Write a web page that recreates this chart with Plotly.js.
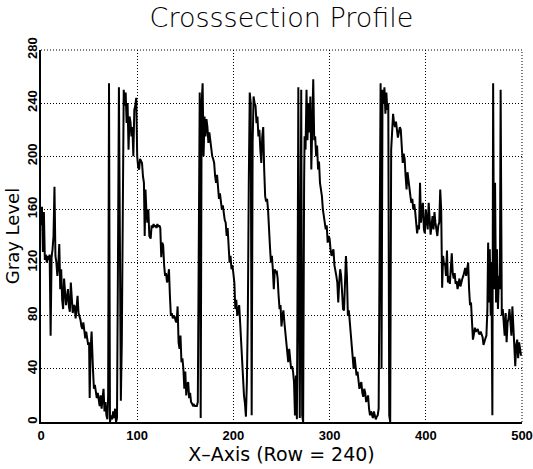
<!DOCTYPE html>
<html>
<head>
<meta charset="utf-8">
<script src="https://cdn.plot.ly/plotly-3.0.1.min.js"></script>
<style>html,body{margin:0;padding:0;background:#fff}</style>
</head>
<body>
<div id="chart" style="width:533px;height:469px"></div>
<script>
// Gray-level profile sampled along image row 240
const rowPos = [
  0,1,2,3,4,5,6,7,8,9,
  10,11,12,13,14,15,16,17,18,19,
  20,21,22,23,24,25,26,27,28,29,
  30,31,32,33,34,35,36,37,38,39,
  40,41,42,43,44,45,46,47,48,49,
  50,50.6,51.6,52.6,54,55,56,57,58,59,
  60,61,62,63,64,65,66,67,68,69,
  69.8,70.7,71.7,73,74,75,76,77,78,79,
  80,81,82,83,84,85,86,87,88,89,
  90,91,92,93,94,95,96,97,98,99,
  100,101,102,103,104,105,106,107,107.8,108.6,
  109.5,110.5,111.6,112.6,114,115,116,117,118,119,
  120,121,122,123,124,125,126,127,128,129,
  130,131,132,133,134,135,136,137,138,139,
  140,141,142,143,144,145,146,147,148,149,
  150,151,152,153,154,155,156,157,158,159,
  160,161,162,163,164,165,166,167,168,169,
  170,171,172,173,174,175,176,177,178,179,
  180,181,182,183,184,185,186,187,188,189,
  190,191,192,193,194,195,196,197,198,199,
  200,201,202,203,204,205,206,207,208,209,
  210,211,212,213,214,215,216,217,218,219,
  220,221,222,223,224,225,226,227,228,229,
  230,231,232,233,234,235,236,237,238,239,
  240,241,242,243,244,245,246,247,248,249,
  250,251,252,253,254,255,256,257,258,259,
  260,261,262,263,264,265,266,267,267.5,268.5,
  269,270,270.5,271.5,272.5,273.5,274,275,276,277,
  278,279,280,281,282,283,284,285,286,287,
  288,289,290,291,292,293,294,295,296,297,
  298,299,300,301,302,303,304,305,306,307,
  308,309,310,311,312,313,314,315,316,317,
  318,319,320,321,322,323,324,325,326,327,
  328,329,330,331,332,333,334,335,336,337,
  338,339,340,341,342,343,344,345,346,347,
  348,349,350,351,352,353,354,355,356,357,
  358,359,360,361,362,363,364,365,366,367,
  368,369,370,371,372,373,374,375,376,377,
  378,379,380,381,382,383,384,385,386,387,
  388,389,390,391,392,393,394,395,396,397,
  398,399,400,401,402,403,404,405,406,407,
  408,409,410,411,412,413,414,415,416,417,
  418,419,420,421,422,423,424,425,426,427,
  428,429,430,431,432,433,434,435,436,437,
  438,439,440,441,442,443,444,445,446,447,
  448,449,450,451,452,453,454,455,456,457,
  458,459,460,461,462,463,464,464.8,465.8,466.5,
  467.5,468.2,469.2,470,471,472,473,474,475,476,
  477,477.8,479,480,481,482,483,484,485,486,
  487,488,489,490,491,492,493,494,495,496,
  497,498,499
];
const grayLevel = [
  148,162,128,158,122,126,120,125,122,126,
  65,124,130,140,177,125,120,110,118,134,
  100,115,92,85,108,95,88,94,100,87,
  83,105,90,82,88,87,78,90,95,82,
  80,77,72,70,75,68,63,68,64,58,
  60,18,55,68,40,25,28,22,18,22,
  15,12,20,10,18,25,8,15,5,2,
  20,255,0,5,2,8,3,10,0,3,
  120,252,140,16,60,200,250,238,248,225,
  240,205,230,226,215,222,200,235,238,244,
  200,192,190,198,196,195,185,180,140,175,
  160,150,160,140,138,148,146,149,147,148,
  146,149,147,148,146,124,135,133,118,110,
  112,105,108,115,95,80,82,78,80,79,
  76,75,87,60,55,65,45,48,40,25,
  38,20,28,30,18,22,15,14,12,13,
  12,12,12,15,160,248,3,240,255,200,
  230,215,228,222,210,218,212,205,200,198,
  195,185,180,186,178,168,172,165,160,163,
  155,152,150,140,146,135,120,125,115,118,
  112,105,85,92,80,84,88,75,60,50,
  35,20,14,4,30,80,180,248,240,5,
  210,245,240,238,225,230,215,220,205,195,
  215,222,190,170,166,168,160,140,132,120,
  125,115,100,115,112,114,108,95,85,88,
  72,80,84,75,68,60,52,45,55,48,
  40,42,38,30,5,35,2,150,252,60,
  3,160,250,5,0,180,215,205,250,212,
  240,218,245,190,215,258,212,215,200,208,
  190,196,180,176,170,160,155,150,145,148,
  135,140,138,130,125,128,130,118,115,110,
  105,90,105,115,110,98,85,84,100,125,
  110,80,84,75,70,60,45,40,49,42,
  35,38,30,25,28,30,22,19,25,22,
  15,18,20,10,5,8,6,3,8,5,
  2,4,5,10,150,255,40,250,240,252,
  232,248,235,240,5,0,205,220,232,225,
  222,226,220,214,218,222,220,205,195,202,
  198,185,175,188,180,172,170,165,168,160,
  164,158,150,142,148,145,180,150,160,165,
  145,142,160,150,145,165,150,141,148,155,
  145,158,150,145,140,148,150,175,160,101,
  125,118,120,110,129,105,110,104,115,127,
  112,108,112,104,106,100,104,108,102,106,
  108,110,113,116,110,115,120,100,88,90,
  70,62,66,71,68,69,70,67,66,68,
  66,64,58,62,63,65,84,135,90,130,
  80,120,5,255,100,180,90,130,85,110,
  100,250,80,85,72,65,82,60,75,78,
  85,70,65,87,70,55,42,58,62,48,
  60,55,50
];

const xTicks = [0, 100, 200, 300, 400, 500];
const yTicks = [0, 40, 80, 120, 160, 200, 240, 280];

const tickFont = {family: 'Liberation Sans, Arial, sans-serif', size: 13, color: '#000', weight: 'bold'};
const dotted = '1px,2px';

const trace = {
  x: rowPos,
  y: grayLevel,
  type: 'scatter',
  mode: 'lines',
  line: {color: '#000', width: 2},
  hoverinfo: 'skip'
};

// dotted frame on the top and right edges, like the grid
const frameEdge = (x0, y0, x1, y1) => ({
  type: 'line', xref: 'paper', yref: 'paper', x0, y0, x1, y1,
  line: {color: '#000', width: 1, dash: dotted}, layer: 'below'
});

const layout = {
  width: 533,
  height: 469,
  margin: {l: 41, r: 11, t: 50, b: 47, pad: 0},
  paper_bgcolor: '#fff',
  plot_bgcolor: '#fff',
  showlegend: false,
  title: {
    text: 'Crosssection Profile',
    font: {family: 'DejaVu Sans, sans-serif', size: 27, color: '#000', weight: 300},
    x: 0.5, xref: 'paper', xanchor: 'center',
    y: 1 - 18 / 469, yref: 'container', yanchor: 'middle'
  },
  shapes: [frameEdge(0, 1, 1, 1), frameEdge(1, 0, 1, 1)],
  xaxis: {
    range: [0, 500],
    tickvals: xTicks,
    ticktext: xTicks.map(String),
    ticks: '',
    tickfont: tickFont,
    showgrid: true,
    gridcolor: '#000',
    gridwidth: 1,
    griddash: dotted,
    zeroline: false,
    showline: true,
    linecolor: '#000',
    linewidth: 2,
    fixedrange: true,
    title: {text: 'X–Axis (Row = 240)', font: {family: 'DejaVu Sans, sans-serif', size: 19, color: '#000'}, standoff: 6}
  },
  yaxis: {
    range: [0, 280],
    tickvals: yTicks,
    ticktext: yTicks.map(String),
    tickangle: -90,
    ticks: '',
    ticklabelstandoff: -3,
    tickfont: tickFont,
    showgrid: true,
    gridcolor: '#000',
    gridwidth: 1,
    griddash: dotted,
    zeroline: false,
    showline: true,
    linecolor: '#000',
    linewidth: 2,
    fixedrange: true,
    title: {text: 'Gray Level', font: {family: 'DejaVu Sans, sans-serif', size: 18, color: '#000'}, standoff: 0}
  }
};

Plotly.newPlot('chart', [trace], layout, {displayModeBar: false, staticPlot: true});
</script>
</body>
</html>
